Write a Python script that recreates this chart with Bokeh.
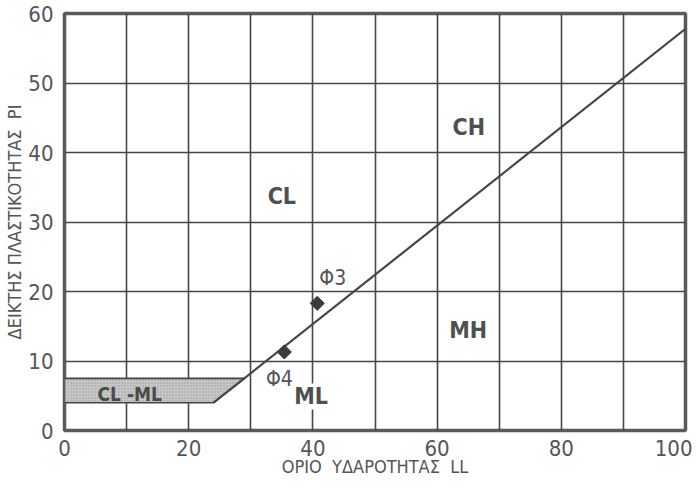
import math
from bokeh.plotting import figure
from bokeh.models import FixedTicker, Label, ColumnDataSource
from bokeh.embed import file_html
from bokeh.resources import INLINE

# A-line (boundary between clays and silts)
aline_ll = [24, 100]
aline_pi = [4, 57.8]

# CL-ML zone
zone_ll = [0, 24, 29, 0]
zone_pi = [4, 4, 7.5, 7.5]

# Samples
sample_names = ["Φ3", "Φ4"]
sample_ll = [40.7, 35.4]
sample_pi = [18.3, 11.3]
sample_label_ll = [43.2, 34.6]
sample_label_pi = [22.0, 7.4]

# Region labels
region_names = ["CL", "CH", "MH", "ML"]
region_ll = [35.0, 65.1, 65.0, 39.7]
region_pi = [33.7, 43.7, 14.5, 4.9]

zone_name = "CL -ML"
zone_label_ll = [10.5]
zone_label_pi = [5.3]

x_ticks = [0, 20, 40, 60, 80, 100]
y_ticks = [0, 10, 20, 30, 40, 50, 60]
grid_x = list(range(0, 101, 10))
grid_y = list(range(0, 61, 10))

NB = "\u00a0"
x_title = "ΟΡΙΟ" + NB * 2 + "ΥΔΑΡΟΤΗΤΑΣ" + NB * 2 + "LL"
y_title = "ΔΕΙΚΤΗΣ" + NB + "ΠΛΑΣΤΙΚΟΤΗΤΑΣ" + NB * 2 + "PI"

TEXT = "#555555"
LINE = "#464646"
FONT = "DejaVu Sans Condensed"

p = figure(frame_width=621, frame_height=417, output_backend="svg", toolbar_location=None,
           x_range=(0, 100), y_range=(0, 60),
           min_border_left=64, min_border_right=7, min_border_top=13, min_border_bottom=48)
p.background_fill_color = "white"
p.border_fill_color = "white"
p.outline_line_color = "#5a5a5a"
p.outline_line_width = 3.5

p.xgrid.ticker = FixedTicker(ticks=grid_x)
p.ygrid.ticker = FixedTicker(ticks=grid_y)
for g in (p.xgrid, p.ygrid):
    g.grid_line_color = LINE
    g.grid_line_width = 1.6
    g.grid_line_alpha = 1.0

p.xaxis.ticker = FixedTicker(ticks=x_ticks)
p.yaxis.ticker = FixedTicker(ticks=y_ticks)
for ax in (p.xaxis, p.yaxis):
    ax.axis_line_color = None
    ax.major_tick_line_color = None
    ax.minor_tick_line_color = None
    ax.major_tick_out = 0
    ax.major_tick_in = 0
    ax.minor_tick_out = 0
    ax.major_label_text_font = FONT
    ax.major_label_text_font_size = "22px"
    ax.major_label_text_color = TEXT
    ax.axis_label_text_font = FONT
    ax.axis_label_text_font_size = "18px"
    ax.axis_label_text_font_style = "normal"
    ax.axis_label_text_color = TEXT
p.xaxis.major_label_standoff = 9
p.yaxis.major_label_standoff = 11
p.xaxis.axis_label = x_title
p.yaxis.axis_label = y_title
p.xaxis.axis_label_standoff = -3
p.yaxis.axis_label_standoff = 0

# CL-ML shaded zone
p.patch(zone_ll, zone_pi, fill_color="#c8c8c8", line_color=LINE, line_width=1.6,
        hatch_pattern="dot", hatch_color="#9a9a9a", hatch_scale=3, hatch_weight=0.6)

# A-line
p.line(aline_ll, aline_pi, line_color=LINE, line_width=2.2)

# Samples
src = ColumnDataSource(dict(x=sample_ll, y=sample_pi))
p.scatter("x", "y", source=src, marker="square", size=10, angle=math.pi / 4,
          fill_color="#3c3c3c", line_color="#3c3c3c")

for name, x, y in zip(sample_names, sample_label_ll, sample_label_pi):
    p.add_layout(Label(x=x, y=y, text=name, text_font=FONT, text_font_size="21px",
                       text_color=TEXT, text_align="center", text_baseline="middle"))

for name, x, y in zip(region_names, region_ll, region_pi):
    lab = Label(x=x, y=y, text=name, text_font=FONT, text_font_size="23px", text_font_style="bold",
                text_color="#505050", text_align="center", text_baseline="middle")
    if name == "ML":
        lab.background_fill_color = "white"
    p.add_layout(lab)

p.add_layout(Label(x=zone_label_ll[0], y=zone_label_pi[0], text=zone_name, text_font=FONT,
                   text_font_size="19px", text_font_style="bold", text_color="#4a4a4a",
                   text_align="center", text_baseline="middle"))

open("out.html", "w").write(file_html(p, INLINE))
